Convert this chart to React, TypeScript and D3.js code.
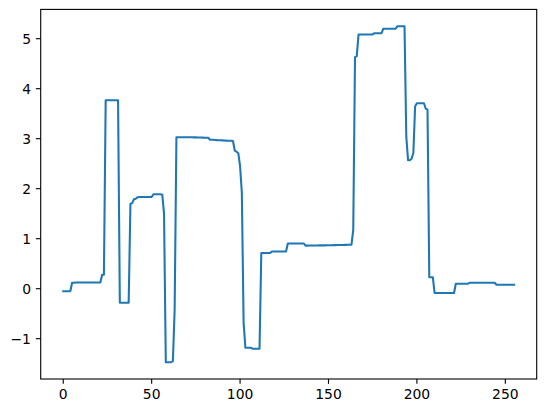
import React from "react";
import * as d3 from "d3";

// x is the sample index 0..255
const values: number[] = [
  // 0-4
  -0.05, -0.05, -0.05, -0.05, -0.05,
  // 5-21
  0.12, 0.12, 0.125, 0.125, 0.125, 0.125, 0.125, 0.125, 0.125, 0.125, 0.125, 0.125, 0.125, 0.125, 0.125, 0.125, 0.125,
  // 22-23
  0.28, 0.28,
  // 24-31
  3.77, 3.77, 3.77, 3.77, 3.77, 3.77, 3.77, 3.77,
  // 32-37
  -0.28, -0.28, -0.28, -0.28, -0.28, -0.28,
  // 38-41
  1.7, 1.71, 1.79, 1.8,
  // 42-50
  1.83, 1.835, 1.835, 1.835, 1.835, 1.835, 1.835, 1.835, 1.835,
  // 51-57
  1.89, 1.89, 1.89, 1.89, 1.89, 1.88, 1.5,
  // 58-63
  -1.47, -1.47, -1.47, -1.47, -1.45, -0.42,
  // 64-82
  3.03, 3.03, 3.03, 3.03, 3.03, 3.03, 3.03, 3.03, 3.028, 3.028, 3.026, 3.026, 3.025, 3.024, 3.023, 3.022, 3.02, 3.02, 3.02,
  // 83-96
  2.98, 2.98, 2.978, 2.975, 2.972, 2.97, 2.968, 2.966, 2.964, 2.962, 2.96, 2.96, 2.958, 2.955,
  // 97-102
  2.76, 2.74, 2.71, 2.45, 1.92, -0.68,
  // 103-111
  -1.18, -1.18, -1.18, -1.18, -1.2, -1.2, -1.2, -1.2, -1.2,
  // 112-117
  0.715, 0.715, 0.715, 0.715, 0.715, 0.715,
  // 118-126
  0.745, 0.745, 0.745, 0.745, 0.745, 0.745, 0.745, 0.745, 0.745,
  // 127-136
  0.905, 0.905, 0.905, 0.905, 0.905, 0.905, 0.905, 0.905, 0.905, 0.905,
  // 137-163
  0.862, 0.862, 0.863, 0.863, 0.864, 0.864, 0.865, 0.865, 0.866, 0.866, 0.867, 0.867, 0.868, 0.869,
  0.87, 0.87, 0.871, 0.872, 0.873, 0.873, 0.874, 0.875, 0.876, 0.877, 0.878, 0.879, 0.88,
  // 164-166
  1.17, 4.63, 4.65,
  // 167-175
  5.085, 5.085, 5.085, 5.085, 5.085, 5.085, 5.085, 5.085, 5.085,
  // 176-180
  5.11, 5.11, 5.11, 5.11, 5.11,
  // 181-188
  5.2, 5.2, 5.2, 5.2, 5.2, 5.2, 5.2, 5.2,
  // 189-193
  5.25, 5.25, 5.25, 5.25, 5.25,
  // 194-199
  3.04, 2.57, 2.57, 2.6, 2.72, 3.65,
  // 200-206
  3.71, 3.71, 3.71, 3.71, 3.71, 3.6, 3.58,
  // 207-209
  0.23, 0.23, 0.23,
  // 210-221
  -0.085, -0.085, -0.085, -0.085, -0.085, -0.085, -0.085, -0.085, -0.085, -0.085, -0.085, -0.085,
  // 222-229
  0.1, 0.1, 0.1, 0.1, 0.1, 0.1, 0.1, 0.1,
  // 230-244
  0.12, 0.12, 0.12, 0.12, 0.12, 0.12, 0.12, 0.12, 0.12, 0.12, 0.12, 0.12, 0.12, 0.12, 0.12,
  // 245-255
  0.08, 0.08, 0.08, 0.08, 0.08, 0.08, 0.08, 0.08, 0.08, 0.08, 0.08,
];

const xTicks: number[] = [0, 50, 100, 150, 200, 250];
const yTicks: number[] = [-1, 0, 1, 2, 3, 4, 5];

const W = 546;
const H = 413;
const left = 40.7;
const right = 536.7;
const top = 9.4;
const bottom = 379;

const fmt = (v: number) => (v < 0 ? "\u2212" + Math.abs(v) : String(v));

export default function App() {
  const n = values.length;
  const xMin = 0;
  const xMax = n - 1;
  const xPad = (xMax - xMin) * 0.05;
  const yMin = d3.min(values) as number;
  const yMax = d3.max(values) as number;
  const yPad = (yMax - yMin) * 0.05;

  const x = d3.scaleLinear().domain([xMin - xPad, xMax + xPad]).range([left, right]);
  const y = d3.scaleLinear().domain([yMin - yPad, yMax + yPad]).range([bottom, top]);

  const line = d3
    .line<number>()
    .x((_, i) => x(i))
    .y((d) => y(d));

  const tickLen = 4.86;
  const pad = 4.86;
  const font = "DejaVu Sans, sans-serif";

  return (
    <svg
      width={W}
      height={H}
      style={{ position: "absolute", left: 0, top: 0, background: "#fff" }}
    >
      <rect x={0} y={0} width={W} height={H} fill="#fff" />
      <path
        d={line(values) || ""}
        fill="none"
        stroke="#1f77b4"
        strokeWidth={2.08}
        strokeLinejoin="round"
        strokeLinecap="square"
      />
      <rect
        x={left}
        y={top}
        width={right - left}
        height={bottom - top}
        fill="none"
        stroke="#000"
        strokeWidth={1.1}
      />
      {xTicks.map((t) => (
        <g key={"x" + t}>
          <line x1={x(t)} x2={x(t)} y1={bottom} y2={bottom + tickLen} stroke="#000" strokeWidth={1.1} />
          <text
            x={x(t)}
            y={bottom + tickLen + pad + 10.3}
            textAnchor="middle"
            fontFamily={font}
            fontSize={13.9}
            fill="#000"
          >
            {fmt(t)}
          </text>
        </g>
      ))}
      {yTicks.map((t) => (
        <g key={"y" + t}>
          <line x1={left - tickLen} x2={left} y1={y(t)} y2={y(t)} stroke="#000" strokeWidth={1.1} />
          <text
            x={left - tickLen - pad}
            y={y(t) + 5.1}
            textAnchor="end"
            fontFamily={font}
            fontSize={13.9}
            fill="#000"
          >
            {fmt(t)}
          </text>
        </g>
      ))}
    </svg>
  );
}
